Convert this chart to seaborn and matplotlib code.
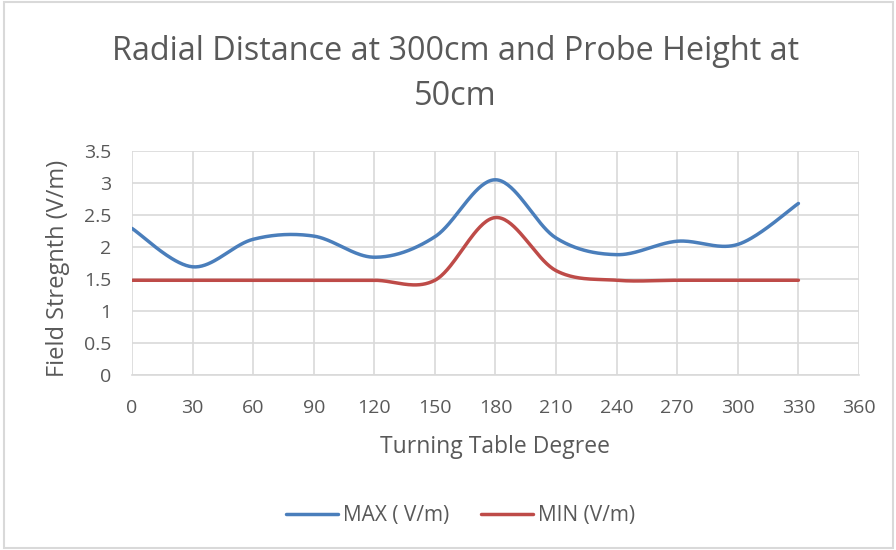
import numpy as np
import pandas as pd
import matplotlib
import matplotlib.pyplot as plt
import seaborn as sns

matplotlib.use("Agg")

# --- data ---
degrees = [0, 30, 60, 90, 120, 150, 180, 210, 240, 270, 300, 330]
max_vals = [2.29, 1.69, 2.12, 2.17, 1.84, 2.16, 3.05, 2.14, 1.88, 2.09, 2.04, 2.68]
min_vals = [1.48, 1.48, 1.48, 1.48, 1.48, 1.48, 2.46, 1.63, 1.48, 1.48, 1.48, 1.48]
x_ticks = list(range(0, 361, 30))
y_ticks = [0, 0.5, 1, 1.5, 2, 2.5, 3, 3.5]
y_tick_labels = ["0", "0.5", "1", "1.5", "2", "2.5", "3", "3.5"]

BLUE = "#4a7ebb"
RED = "#be4b48"
TEXT = "#595959"


def smooth(xs, ys, n=40):
    # Excel-like smoothed line: Bezier segments with Catmull-Rom control points
    xs = np.asarray(xs, float)
    ys = np.asarray(ys, float)
    px = np.concatenate([[xs[0]], xs, [xs[-1]]])
    py = np.concatenate([[ys[0]], ys, [ys[-1]]])
    out_x, out_y = [], []
    t = np.linspace(0, 1, n)
    for i in range(1, len(px) - 2):
        p0, p1, p2, p3 = [np.array([px[j], py[j]]) for j in range(i - 1, i + 3)]
        c1 = p1 + (p2 - p0) / 6
        c2 = p2 - (p3 - p1) / 6
        pts = ((1 - t) ** 3)[:, None] * p1 + (3 * (1 - t) ** 2 * t)[:, None] * c1 \
            + (3 * (1 - t) * t ** 2)[:, None] * c2 + (t ** 3)[:, None] * p2
        out_x.extend(pts[:, 0])
        out_y.extend(pts[:, 1])
    return np.array(out_x), np.array(out_y)


sns.set_theme(style="white")
plt.rcParams["font.family"] = ["Open Sans", "DejaVu Sans"]

fig = plt.figure(figsize=(8.96, 5.5), dpi=100)
fig.patch.set_facecolor("white")
fig.patches.append(plt.Rectangle((0.004, 0.004), 0.993, 0.992, transform=fig.transFigure,
                                 fill=False, edgecolor="#d9d9d9", linewidth=1.5))
ax = fig.add_axes([0.1473, 0.3182, 0.8114, 0.4073])

rows = []
for name, vals in [("MAX ( V/m)", max_vals), ("MIN (V/m)", min_vals)]:
    sx, sy = smooth(degrees, vals)
    rows.append(pd.DataFrame({"deg": sx, "val": sy, "series": name}))
df = pd.concat(rows, ignore_index=True)

sns.lineplot(data=df, x="deg", y="val", hue="series", units="series", estimator=None,
             sort=False, palette=[BLUE, RED], linewidth=2.5, ax=ax, legend=False)

ax.set_xlim(0, 360)
ax.set_ylim(0, 3.5)
ax.set_xticks(x_ticks)
ax.set_yticks(y_ticks)
ax.set_yticklabels(y_tick_labels)
ax.grid(True, color="#d9d9d9", linewidth=1.2)
ax.set_axisbelow(True)
for s in ["top", "right", "left"]:
    ax.spines[s].set_visible(False)
ax.spines["bottom"].set_color("#d9d9d9")
ax.spines["bottom"].set_linewidth(1.2)
ax.tick_params(axis="both", length=0, labelsize=14, colors=TEXT)
ax.tick_params(axis="x", pad=17)
ax.tick_params(axis="y", pad=15)

ax.set_xlabel("Turning Table Degree", fontsize=16.5, color=TEXT)
ax.xaxis.label.set_va("center")
ax.xaxis.set_label_coords(0.5, -0.32)
ax.set_ylabel("Field Stregnth (V/m)", fontsize=17, color=TEXT)
ax.yaxis.set_label_coords(-0.0853, 0.475)

fig.text(0.508, 0.907, "Radial Distance at 300cm and Probe Height at", ha="center", va="center",
         fontsize=23.3, color=TEXT)
fig.text(0.508, 0.825, "50cm", ha="center", va="center", fontsize=23.3, color=TEXT)

handles = [plt.Line2D([], [], color=BLUE, linewidth=2.5),
           plt.Line2D([], [], color=RED, linewidth=2.5)]
fig.legend(handles, ["MAX ( V/m)", "MIN (V/m)"], loc="center", bbox_to_anchor=(0.514, 0.062),
           ncol=2, frameon=False, fontsize=15, labelcolor=TEXT, handlelength=2.5,
           handletextpad=0.25, columnspacing=1.5)

fig.savefig("out.png", dpi=100)
